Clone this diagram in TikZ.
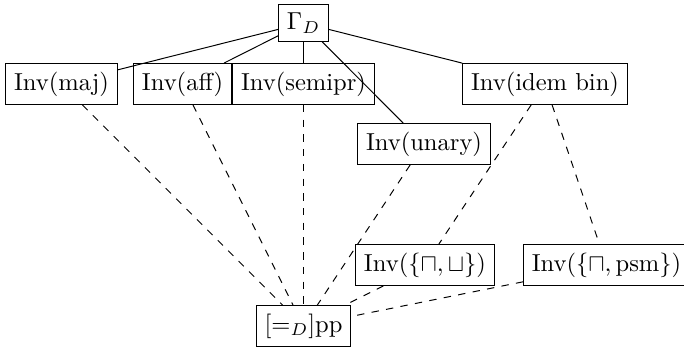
\documentclass[tikz,border=0pt]{standalone}
\usepackage{amssymb}
\begin{document}
\begin{tikzpicture}[x=0.4075pt,y=-0.4075pt,
  box/.style={draw,rectangle,inner sep=3.33pt},
  dep/.style={dashed}]
\useasboundingbox (0,0) rectangle (684,349);
\begin{scope}
\clip (0,0) rectangle (684,349);
\node[box] (top)   at (303.5,23) {$\Gamma_D$};
\node[box] (maj)   at (61.5,84)  {Inv(maj)};
\node[box,minimum width=39.5pt] (aff) at (182.5,84) {Inv(aff)};
\node[box] (semi)  at (303.5,84) {Inv(semipr)};
\node[box] (idem)  at (545,84)   {Inv(idem bin)};
\node[box] (un)    at (424,144)  {Inv(unary)};
\node[box] (cu)    at (425,265)  {Inv($\{\sqcap,\sqcup\}$)};
\node[box] (psm)   at (606.5,265) {Inv($\{\sqcap,\mathrm{psm}\}$)};
\node[box] (pp)    at (303.5,326) {$[=_D]$pp};
% generating relations
\draw (top) -- (maj);
\draw (top) -- (aff);
\draw (top) -- (semi);
\draw (top) -- (idem);
\draw (top) -- (un);
% derived inclusions
\draw[dep] (maj) -- (pp);
\draw[dep] (aff) -- (pp);
\draw[dep] (semi) -- (pp);
\draw[dep] (un) -- (pp);
\draw[dep] (idem) -- (cu);
\draw[dep] (idem) -- (psm);
\draw[dep] (cu) -- (pp);
\draw[dep] (psm) -- (pp);
\end{scope}
\end{tikzpicture}
\end{document}
